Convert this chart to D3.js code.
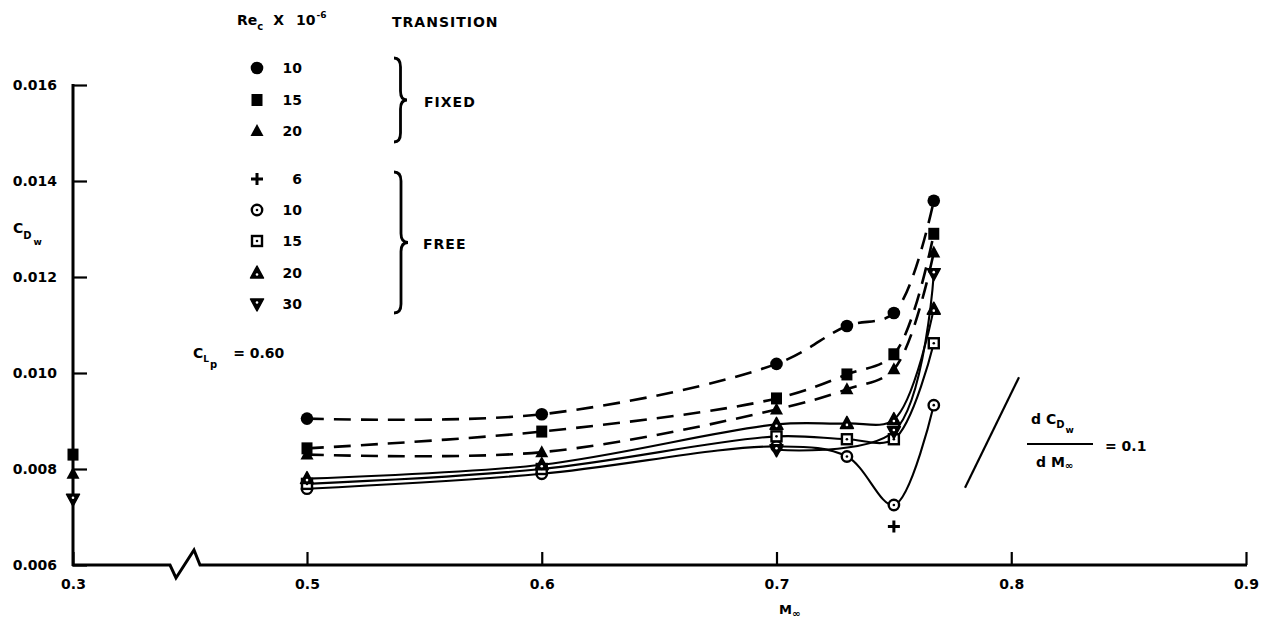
<!DOCTYPE html>
<html><head><meta charset="utf-8">
<script src="https://cdn.jsdelivr.net/npm/d3@7"></script>
<style>
body{margin:0;background:#fff;}
text{font-family:"DejaVu Sans",sans-serif;font-weight:bold;fill:#000;}
</style></head>
<body><svg id="c" width="1268" height="624"></svg>
<script>
// ---- data ----
const machs = [0.5, 0.6, 0.7, 0.73, 0.75, 0.767];
const fixed10 = [0.00905, 0.00914, 0.01019, 0.01098, 0.01125, 0.01359];
const fixed15 = [0.00843, 0.00878, 0.00947, 0.00997, 0.01039, 0.01290];
const fixed20 = [0.00830, 0.00835, 0.00924, 0.00966, 0.01008, 0.01251];
const free10  = [0.00759, 0.00790, 0.00847, 0.00826, 0.00725, 0.00933];
const free15  = [0.00769, 0.00800, 0.00868, 0.00862, 0.00862, 0.01062];
const free20  = [0.00780, 0.00809, 0.00893, 0.00895, 0.00903, 0.01133];
const free30Mach = [0.7, 0.75, 0.767];
const free30  = [0.00840, 0.00878, 0.01207];
const lowMach = 0.3;
const lowFixed15 = 0.0083, lowFixed20 = 0.0079, lowFree30 = 0.00737;
const free6Mach = [0.75], free6 = [0.0068];
const xTicks = [0.3, 0.5, 0.6, 0.7, 0.8, 0.9];
const yTicks = [0.006, 0.008, 0.010, 0.012, 0.014, 0.016];
const legendRows = [
  {sym:"circleFill", label:"10"}, {sym:"squareFill", label:"15"}, {sym:"triFill", label:"20"},
  {sym:"plus", label:"6"}, {sym:"circleDot", label:"10"}, {sym:"squareDot", label:"15"},
  {sym:"triDot", label:"20"}, {sym:"triDownDot", label:"30"}];
const slope = {m0:0.7803, c0:0.00761, dm:0.023, k:0.1};

// ---- scales ----
const svg = d3.select("#c");
const x = d3.scaleLinear().domain([0.3, 0.5, 0.9]).range([73, 307, 1246]);
const y = d3.scaleLinear().domain([0.006, 0.016]).range([565, 85]);

// ---- axes ----
const yAx = svg.append("g").attr("transform","translate(73,0)")
  .call(d3.axisLeft(y).tickValues(yTicks).tickSize(-14).tickPadding(16).tickFormat(d3.format(".3f")));
yAx.select(".domain").remove();
yAx.selectAll("line").attr("stroke","#000").attr("stroke-width",2.2);
yAx.selectAll("text").style("font-size","14px").attr("fill","#000");
svg.append("line").attr("x1",73).attr("x2",73).attr("y1",y(0.016)-1).attr("y2",y(0.006)+1)
  .attr("stroke","#000").attr("stroke-width",3);

const xAx = svg.append("g").attr("transform","translate(0,"+y(0.006)+")")
  .call(d3.axisBottom(x).tickValues(xTicks).tickSize(-13).tickPadding(14).tickFormat(d3.format(".1f")));
xAx.select(".domain").remove();
xAx.selectAll("line").attr("stroke","#000").attr("stroke-width",2.2);
xAx.selectAll("text").style("font-size","14px").attr("fill","#000");
const y0 = y(0.006);
svg.append("path").attr("d",
  `M72,${y0} L170,${y0} L176,${y0+13} L194,${y0-15} L200,${y0} L${x(0.9)+1},${y0}`)
  .attr("fill","none").attr("stroke","#000").attr("stroke-width",3).attr("stroke-linejoin","miter");

// ---- lines ----
const line = d3.line().x(d=>x(d[0])).y(d=>y(d[1])).curve(d3.curveCatmullRom.alpha(0.5));
function series(ms, vs){ return ms.map((m,i)=>[m, vs[i]]); }
const dashed = [fixed10, fixed15, fixed20];
dashed.forEach(vs=>{
  svg.append("path").attr("d", line(series(machs, vs))).attr("fill","none")
    .attr("stroke","#000").attr("stroke-width",2.6).attr("stroke-dasharray","17,10");
});
[free10, free15, free20].forEach(vs=>{
  svg.append("path").attr("d", line(series(machs, vs))).attr("fill","none")
    .attr("stroke","#000").attr("stroke-width",2.1);
});
svg.append("path").attr("d", line(series(free30Mach, free30))).attr("fill","none")
  .attr("stroke","#000").attr("stroke-width",2.1);

// ---- markers ----
function marker(g, type, cx, cy){
  const s = g.append("g").attr("transform",`translate(${cx},${cy})`);
  const tri = "M0,-7 L6.5,5 L-6.5,5 Z", triD = "M0,7 L6.5,-5 L-6.5,-5 Z";
  if(type==="circleFill") s.append("circle").attr("r",6.3).attr("fill","#000");
  else if(type==="squareFill") s.append("rect").attr("x",-5.5).attr("y",-6).attr("width",11).attr("height",12).attr("fill","#000");
  else if(type==="triFill") s.append("path").attr("d",tri).attr("fill","#000");
  else if(type==="plus"){ s.append("path").attr("d","M-6,0 H6 M0,-6 V6").attr("stroke","#000").attr("stroke-width",3); }
  else if(type==="circleDot"){ s.append("circle").attr("r",5.2).attr("fill","#fff").attr("stroke","#000").attr("stroke-width",2.4);
    s.append("circle").attr("r",1.3).attr("fill","#000"); }
  else if(type==="squareDot"){ s.append("rect").attr("x",-5).attr("y",-5).attr("width",10).attr("height",10).attr("fill","#fff").attr("stroke","#000").attr("stroke-width",2.4);
    s.append("circle").attr("r",1.3).attr("fill","#000"); }
  else if(type==="triDot"){ s.append("path").attr("d",tri).attr("fill","#000").attr("stroke","#000").attr("stroke-width",1.5).attr("stroke-linejoin","round");
    s.append("circle").attr("cy",1.5).attr("r",1.3).attr("fill","#fff"); }
  else if(type==="triDownDot"){ s.append("path").attr("d",triD).attr("fill","#000").attr("stroke","#000").attr("stroke-width",1.5).attr("stroke-linejoin","round");
    s.append("circle").attr("cy",-1.5).attr("r",1.3).attr("fill","#fff"); }
}
const mk = svg.append("g");
function drawSeries(ms, vs, type){ ms.forEach((m,i)=>marker(mk, type, x(m), y(vs[i]))); }
drawSeries(machs, free10, "circleDot");
drawSeries(machs, free15, "squareDot");
drawSeries(machs, free20, "triDot");
drawSeries(free30Mach, free30, "triDownDot");
drawSeries(free6Mach, free6, "plus");
drawSeries(machs, fixed20, "triFill");
drawSeries(machs, fixed15, "squareFill");
drawSeries(machs, fixed10, "circleFill");
marker(mk, "squareFill", x(lowMach), y(lowFixed15));
marker(mk, "triFill", x(lowMach), y(lowFixed20));
marker(mk, "triDownDot", x(lowMach), y(lowFree30));

// ---- legend ----
const lg = svg.append("g");
const rowY = [68, 100, 131, 179, 210, 241, 273, 304];
legendRows.forEach((r,i)=>{
  marker(lg, r.sym, 257, rowY[i]);
  lg.append("text").attr("x",302).attr("y",rowY[i]+5).attr("text-anchor","end").style("font-size","14px").text(r.label);
});
const hdr = lg.append("text").attr("x",237).attr("y",25).style("font-size","14px");
hdr.append("tspan").text("Re");
hdr.append("tspan").attr("dy",5).style("font-size","10px").text("c");
hdr.append("tspan").attr("dy",-5).attr("dx",10).text("X");
hdr.append("tspan").attr("dx",12).text("10");
hdr.append("tspan").attr("dy",-7).attr("dx",1).style("font-size","9px").text("-6");
lg.append("text").attr("x",392).attr("y",27).style("font-size","14px").attr("letter-spacing","1").text("TRANSITION");
function brace(x0, y1, y2, w){
  const m=(y1+y2)/2, q=9, h=x0+w/2;
  return `M${x0},${y1} Q${h},${y1} ${h},${y1+q} L${h},${m-q} Q${h},${m} ${x0+w},${m} Q${h},${m} ${h},${m+q} L${h},${y2-q} Q${h},${y2} ${x0},${y2}`;
}
lg.append("path").attr("d",brace(394,58,142,13)).attr("fill","none").attr("stroke","#000").attr("stroke-width",2.8);
lg.append("path").attr("d",brace(394,172,313,14)).attr("fill","none").attr("stroke","#000").attr("stroke-width",2.8);
lg.append("text").attr("x",424).attr("y",107).style("font-size","14px").attr("letter-spacing","1").text("FIXED");
lg.append("text").attr("x",423).attr("y",249).style("font-size","14px").attr("letter-spacing","1").text("FREE");

// ---- axis titles & annotations ----
const yl = svg.append("text").attr("x",13).attr("y",233).style("font-size","14px");
yl.append("tspan").text("C");
yl.append("tspan").attr("dy",6).style("font-size","10px").text("D");
yl.append("tspan").attr("dy",6).attr("dx",2).style("font-size","9px").text("w");

const cl = svg.append("text").attr("x",193).attr("y",358).style("font-size","14px");
cl.append("tspan").text("C");
cl.append("tspan").attr("dy",4).style("font-size","9px").text("L");
cl.append("tspan").attr("dy",6).attr("dx",1).style("font-size","10px").text("p");
cl.append("tspan").attr("dy",-10).attr("dx",16).text("=  0.60");

const xl = svg.append("text").attr("x",779).attr("y",614).style("font-size","13px");
xl.append("tspan").text("M");
xl.append("tspan").attr("dy",3).style("font-size","10px").text("∞");

// slope indicator
svg.append("line").attr("x1",x(slope.m0)).attr("y1",y(slope.c0))
  .attr("x2",x(slope.m0+slope.dm)).attr("y2",y(slope.c0+slope.k*slope.dm))
  .attr("stroke","#000").attr("stroke-width",2.2);
const num = svg.append("text").attr("x",1031).attr("y",424).style("font-size","14px");
num.append("tspan").text("d C");
num.append("tspan").attr("dy",4).style("font-size","10px").text("D");
num.append("tspan").attr("dy",5).attr("dx",1).style("font-size","9px").text("w");
svg.append("line").attr("x1",1027).attr("x2",1093).attr("y1",444).attr("y2",444).attr("stroke","#000").attr("stroke-width",2);
const den = svg.append("text").attr("x",1036).attr("y",467).style("font-size","14px");
den.append("tspan").text("d M");
den.append("tspan").attr("dy",2).style("font-size","10px").text("∞");
svg.append("text").attr("x",1105).attr("y",451).style("font-size","14px").text("=  0.1");
</script></body></html>
